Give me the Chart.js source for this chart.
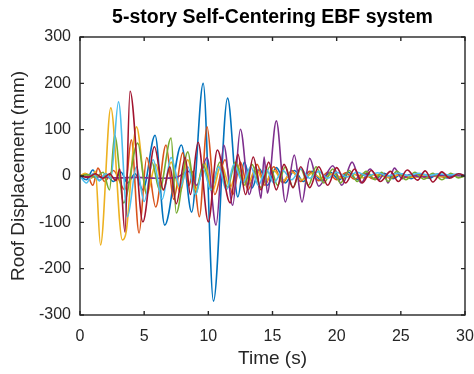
<!DOCTYPE html>
<html>
<head>
<meta charset="utf-8">
<script src="https://cdn.jsdelivr.net/npm/chart.js@4.4.0/dist/chart.umd.min.js"></script>
<style>
  html, body { margin: 0; padding: 0; background: #fff; }
  #wrap { width: 474px; height: 374px; }
</style>
</head>
<body>
<div id="wrap"><canvas id="roofChart" width="474" height="374"></canvas></div>
<script>
// time (s) and roof displacement (mm), one pair of arrays per record
const blueT = [0,0.5,1.0,1.5,2.0,2.6,3.2,3.7,4.3,4.9,5.85,6.6,7.9,8.7,9.6,10.4,11.5,12.3,12.8,13.4,14.0,14.6,15.3,16.0,16.7,17.4,18.1,18.8,19.5,20.2,20.9,21.6,22.3,23.0,23.7,24.4,25.1,25.8,26.5,27.2,27.9,28.6,29.3,30];
const blueV = [0,-8,13,-10,5,-12,8,-15,5,-30,88,-106,67,-78,200,-270,168,-45,30,-26,15,-20,18,-15,12,-12,10,-10,8,-8,8,-8,6,-7,6,-6,5,-6,5,-5,4,-4,3,0];

const orangeT = [0,0.5,1.0,1.4,1.9,2.6,3.5,4.0,4.6,5.2,5.9,6.7,7.3,8.0,8.5,8.8,9.3,9.9,10.5,11.3,11.9,12.5,13.1,13.8,14.4,15.1,15.8,16.5,17.2,17.9,18.6,19.3,20.0,20.7,21.4,22.1,22.8,23.5,24.2,24.9,25.6,26.3,27.0,27.7,28.4,29.1,30];
const orangeV = [0,5,-20,17,-12,12,-30,78,-123,40,-67,67,-50,50,-20,10,-88,106,-40,35,-40,30,-30,25,-20,20,-15,12,-12,10,-10,8,-8,7,-7,6,-6,5,-5,4,-4,4,-4,3,-3,3,0];

const yellowT = [0,0.4,0.9,1.2,1.6,2.4,3.3,3.6,4.4,5.2,5.9,6.5,7.1,7.8,8.4,9.0,9.7,10.3,11.0,11.7,12.3,13.0,13.7,14.4,15.1,15.8,16.5,17.3,18.1,18.9,19.7,20.5,21.3,22.1,23.0,24.0,25.0,26.0,27.0,28.0,29.0,30];
const yellowV = [0,6,-5,10,-149,147,-138,-120,106,-40,25,-30,30,-35,35,-30,30,-35,25,-25,20,-20,15,-15,12,-10,8,-8,6,-6,5,-5,4,-4,3,-3,3,-3,2,-2,2,0];

const purpleT = [0,1.5,3,4.5,6,7.5,8.5,9.1,9.9,10.6,11.2,11.9,12.5,13.2,13.7,14.1,14.35,14.6,15.3,16.0,16.7,17.3,17.9,18.6,19.7,20.4,21.2,21.9,22.6,23.3,23.7,24.0,24.5,25.1,25.7,26.5,28,30];
const purpleV = [0,-2,-4,-3,-5,-3,10,-20,40,-106,67,-63,101,-40,20,-48,41,-37,119,-56,45,-56,38,-22,22,-20,30,-15,15,-8,5,-15,17,-6,3,-2,1,0];

const greenT = [0,0.6,1.2,1.8,2.3,2.7,3.4,4.5,5.2,5.6,6.2,7.1,7.5,8.4,9.0,9.6,10.2,10.9,11.5,12.1,12.8,13.4,14.1,14.8,15.4,16.0,16.6,17.2,17.8,18.4,19.0,19.7,20.3,21.0,21.6,22.3,23.0,23.5,24.0,24.7,25.4,26.1,26.8,27.5,28.2,28.9,29.5,30];
const greenV = [0,3,-3,8,-30,88,-58,71,-40,30,-30,82,-80,52,-40,25,-30,30,-25,30,-20,25,-25,20,-20,20,-25,15,-20,20,-15,15,-15,12,-12,10,-8,8,-12,10,-8,8,-7,6,-8,6,-4,0];

const cyanT = [0,0.5,1.0,1.5,2.0,2.4,3.0,3.7,4.4,5.0,5.7,6.4,7.1,7.8,8.4,9.0,9.6,10.2,10.8,11.4,12.0,12.7,13.3,13.9,14.5,15.1,15.8,16.5,17.2,17.9,18.6,19.3,20.0,20.8,21.6,22.4,23.2,24.0,24.8,25.6,26.4,27.2,28.0,28.8,29.5,30];
const cyanV = [0,-15,5,-10,5,-5,160,-88,20,-55,35,-50,40,-25,20,-40,15,-30,20,-30,25,-15,20,-20,15,-15,12,-8,15,-5,10,-5,8,-2,8,0,7,0,6,1,6,1,5,2,4,2];

const redT = [0,0.6,1.2,1.8,2.3,2.8,3.1,3.5,3.9,4.9,5.8,6.5,7.0,7.5,8.2,8.6,9.2,10.0,10.7,11.7,12.3,12.9,13.5,14.1,14.7,15.3,15.9,16.6,17.2,17.9,18.6,19.3,20.0,20.7,21.4,22.0,22.7,23.4,24.2,24.8,25.5,26.3,26.9,27.5,28.2,28.8,29.5,30];
const redV = [0,-3,5,-5,5,-10,15,-121,183,-99,63,-30,20,-60,40,-40,73,-99,56,-58,47,-40,41,-30,30,-30,25,-25,20,-25,20,-20,18,-15,15,-15,12,-12,10,-12,13,-9,11,-13,9,-5,5,0];

const xTicks = [0, 5, 10, 15, 20, 25, 30];
const yTicks = [-300, -200, -100, 0, 100, 200, 300];

const series = [
  [blueT, blueV, '#0072BD'],
  [orangeT, orangeV, '#D95319'],
  [yellowT, yellowV, '#EDB120'],
  [purpleT, purpleV, '#7E2F8E'],
  [greenT, greenV, '#77AC30'],
  [cyanT, cyanV, '#4DBEEE'],
  [redT, redV, '#A2142F']
];

const FONT = "'Liberation Sans', Arial, Helvetica, sans-serif";
const AXIS = '#262626';

// matlab style box with inward ticks, plus the title over the axes
const matlabBox = {
  id: 'matlabBox',
  afterDraw(chart) {
    const { ctx, chartArea: a, scales } = chart;
    ctx.save();
    ctx.strokeStyle = AXIS;
    ctx.lineWidth = 1.4;
    ctx.strokeRect(a.left, a.top, a.right - a.left, a.bottom - a.top);
    ctx.beginPath();
    xTicks.forEach(v => {
      const px = scales.x.getPixelForValue(v);
      ctx.moveTo(px, a.bottom); ctx.lineTo(px, a.bottom - 4);
      ctx.moveTo(px, a.top); ctx.lineTo(px, a.top + 4);
    });
    yTicks.forEach(v => {
      const py = scales.y.getPixelForValue(v);
      ctx.moveTo(a.left, py); ctx.lineTo(a.left + 4, py);
      ctx.moveTo(a.right, py); ctx.lineTo(a.right - 4, py);
    });
    ctx.stroke();
    ctx.fillStyle = '#000';
    ctx.font = 'bold 19.5px ' + FONT;
    ctx.textAlign = 'center';
    ctx.textBaseline = 'middle';
    ctx.fillText('5-story Self-Centering EBF system', (a.left + a.right) / 2, 18);
    ctx.restore();
  }
};

new Chart(document.getElementById('roofChart'), {
  type: 'line',
  data: {
    datasets: series.map((s, i) => ({
      data: s[0].map((t, k) => ({ x: t, y: s[1][k] })),
      borderColor: s[2],
      borderWidth: 1.6,
      pointRadius: 0,
      fill: false,
      cubicInterpolationMode: 'monotone',
      order: series.length - i
    }))
  },
  options: {
    responsive: false,
    animation: false,
    layout: { padding: { left: 0, right: 9, top: 37, bottom: 0 } },
    plugins: { legend: { display: false }, tooltip: { enabled: false } },
    scales: {
      x: {
        type: 'linear',
        min: 0, max: 30,
        afterFit: s => { s.height = 59; s.paddingLeft = 0; s.paddingRight = 0; },
        afterBuildTicks: s => { s.ticks = xTicks.map(v => ({ value: v })); },
        grid: { display: false, drawTicks: false },
        border: { display: false },
        ticks: { color: AXIS, font: { family: FONT, size: 16 }, padding: 12, maxRotation: 0 },
        title: { display: true, text: 'Time (s)', color: AXIS, font: { family: FONT, size: 19 }, padding: { top: 0, bottom: 4 } }
      },
      y: {
        min: -300, max: 300,
        afterFit: s => { s.width = 80; },
        afterBuildTicks: s => { s.ticks = yTicks.map(v => ({ value: v })); },
        grid: { display: false, drawTicks: false },
        border: { display: false },
        ticks: { color: AXIS, font: { family: FONT, size: 16 }, padding: 9 },
        title: { display: true, text: 'Roof Displacement (mm)', color: AXIS, font: { family: FONT, size: 19 }, padding: { top: 7, bottom: 0 } }
      }
    }
  },
  plugins: [matlabBox]
});
</script>
</body>
</html>
